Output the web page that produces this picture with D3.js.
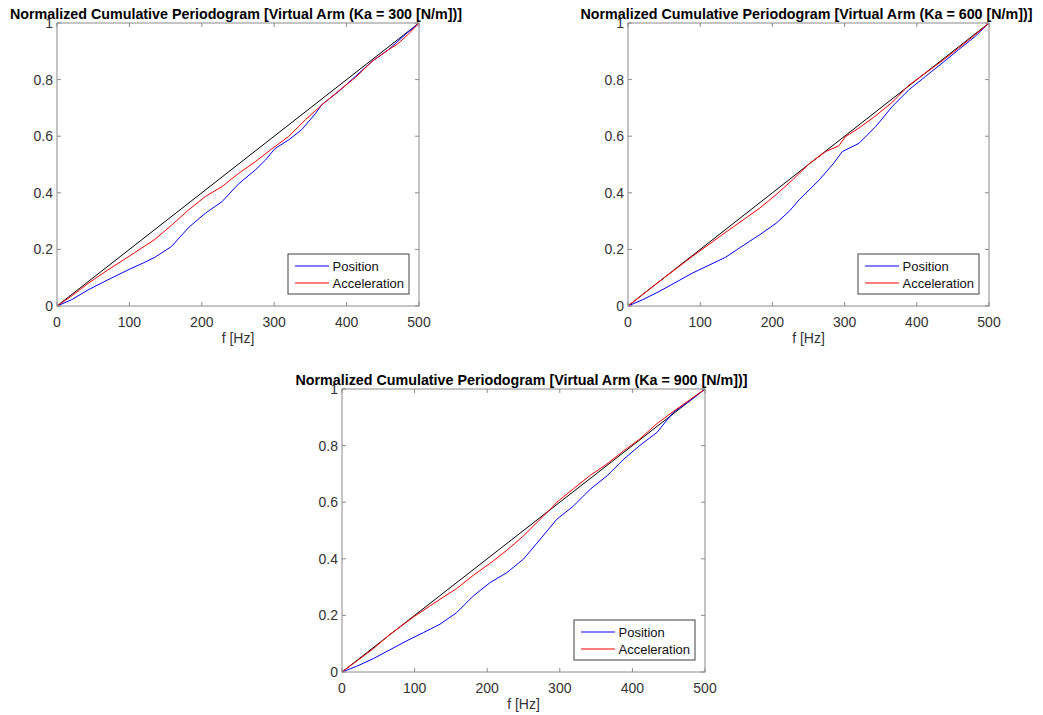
<!DOCTYPE html>
<html>
<head>
<meta charset="utf-8">
<script src="https://cdn.jsdelivr.net/npm/d3@7"></script>
<style>
  body { margin: 0; background: #fff; }
  text { font-family: "Liberation Sans", Arial, sans-serif; }
</style>
</head>
<body>
<div id="fig"></div>
<script>
// traced curves, [f (Hz), normalized cumulative periodogram]
// Ka = 300
var pos300 = [[0,0],[20,0.022],[43,0.057],[70,0.092],[101,0.131],[120,0.153],[135,0.172],[158,0.21],[182,0.278],[205,0.328],[228,0.369],[251,0.432],[274,0.481],[288,0.516],[301,0.556],[320,0.587],[338,0.623],[357,0.68],[366,0.712],[389,0.758],[412,0.811],[435,0.864],[458,0.906],[481,0.959],[500,1]];
var acc300 = [[0,0],[20,0.035],[43,0.08],[70,0.127],[101,0.178],[120,0.21],[135,0.235],[158,0.285],[182,0.34],[205,0.387],[228,0.422],[251,0.469],[274,0.51],[297,0.556],[320,0.599],[343,0.658],[366,0.711],[389,0.76],[412,0.807],[435,0.864],[458,0.906],[470,0.925],[486,0.962],[500,1]];
// Ka = 600
var pos600 = [[0,0],[20,0.022],[43,0.051],[89,0.116],[135,0.172],[168,0.228],[182,0.251],[205,0.292],[223,0.334],[237,0.375],[265,0.446],[285,0.505],[297,0.546],[320,0.575],[343,0.634],[366,0.705],[389,0.764],[412,0.811],[435,0.858],[458,0.906],[481,0.953],[500,1]];
var acc600 = [[0,0],[43,0.086],[89,0.175],[135,0.26],[182,0.345],[205,0.393],[228,0.446],[251,0.503],[274,0.546],[292,0.566],[301,0.598],[320,0.629],[343,0.672],[366,0.72],[389,0.78],[412,0.823],[435,0.866],[458,0.912],[481,0.959],[500,1]];
// Ka = 900
var pos900 = [[0,0],[20,0.02],[43,0.047],[89,0.11],[112,0.139],[135,0.169],[158,0.21],[181,0.269],[204,0.316],[227,0.351],[250,0.399],[273,0.469],[296,0.54],[319,0.587],[342,0.646],[365,0.693],[388,0.752],[410,0.8],[434,0.847],[456,0.917],[479,0.958],[500,1]];
var acc900 = [[0,0],[43,0.082],[66,0.133],[100,0.197],[135,0.257],[158,0.295],[181,0.342],[204,0.384],[227,0.43],[250,0.481],[273,0.54],[287,0.575],[296,0.6],[319,0.648],[342,0.695],[365,0.735],[388,0.782],[410,0.823],[434,0.878],[456,0.92],[479,0.962],[500,1]];

var xTicks = [0, 100, 200, 300, 400, 500];
var yTicks = [0, 0.2, 0.4, 0.6, 0.8, 1];
var legendNames = ["Position", "Acceleration"];
var titles = [
  "Normalized Cumulative Periodogram [Virtual Arm (Ka = 300 [N/m])]",
  "Normalized Cumulative Periodogram [Virtual Arm (Ka = 600 [N/m])]",
  "Normalized Cumulative Periodogram [Virtual Arm (Ka = 900 [N/m])]"
];

var width = 1043, height = 715;
var axisColor = "#8a8a8a", textColor = "#333";
var seriesColors = ["#0000ff", "#ff0000"];

var svg = d3.select("#fig").append("svg")
  .attr("width", width)
  .attr("height", height);

// one subplot
function drawPanel(left, top, w, h, title, pos, acc) {
  var g = svg.append("g").attr("transform", "translate(" + left + "," + top + ")");

  var x = d3.scaleLinear().domain([0, 500]).range([0, w]);
  var y = d3.scaleLinear().domain([0, 1]).range([h, 0]);

  var line = d3.line()
    .x(function(d) { return x(d[0]); })
    .y(function(d) { return y(d[1]); });

  // reference diagonal
  g.append("path")
    .attr("d", line([[0, 0], [500, 1]]))
    .attr("fill", "none").attr("stroke", "#000").attr("stroke-width", 1);

  [pos, acc].forEach(function(s, i) {
    g.append("path")
      .attr("d", line(s))
      .attr("fill", "none").attr("stroke", seriesColors[i]).attr("stroke-width", 1);
  });

  // box
  g.append("rect")
    .attr("x", 0).attr("y", 0).attr("width", w).attr("height", h)
    .attr("fill", "none").attr("stroke", axisColor).attr("stroke-width", 1);

  // ticks inside the box on all four sides
  var tl = 4;
  xTicks.forEach(function(t) {
    g.append("line").attr("x1", x(t)).attr("x2", x(t)).attr("y1", h).attr("y2", h - tl).attr("stroke", axisColor);
    g.append("line").attr("x1", x(t)).attr("x2", x(t)).attr("y1", 0).attr("y2", tl).attr("stroke", axisColor);
    g.append("text")
      .attr("x", x(t)).attr("y", h + 21)
      .attr("text-anchor", "middle")
      .attr("font-size", 14).attr("fill", textColor)
      .text(t);
  });
  yTicks.forEach(function(t) {
    g.append("line").attr("x1", 0).attr("x2", tl).attr("y1", y(t)).attr("y2", y(t)).attr("stroke", axisColor);
    g.append("line").attr("x1", w).attr("x2", w - tl).attr("y1", y(t)).attr("y2", y(t)).attr("stroke", axisColor);
    g.append("text")
      .attr("x", -4).attr("y", y(t) + 5)
      .attr("text-anchor", "end")
      .attr("font-size", 14).attr("fill", textColor)
      .text(t);
  });

  g.append("text")
    .attr("x", w / 2).attr("y", h + 37)
    .attr("text-anchor", "middle")
    .attr("font-size", 14).attr("fill", textColor)
    .text("f [Hz]");

  // title sits right on the top edge
  g.append("text")
    .attr("x", w / 2 - 2).attr("y", -4.5)
    .attr("text-anchor", "middle")
    .attr("font-size", 14).attr("font-weight", "bold").attr("fill", "#000")
    .attr("textLength", 452).attr("lengthAdjust", "spacingAndGlyphs")
    .text(title);

  // legend, bottom right
  var lw = 121, lh = 40;
  var lg = g.append("g").attr("transform", "translate(" + (w - 10 - lw) + "," + (h - 12 - lh) + ")");
  lg.append("rect")
    .attr("width", lw).attr("height", lh)
    .attr("fill", "#fff").attr("stroke", "#404040").attr("stroke-width", 1);
  legendNames.forEach(function(n, i) {
    var ly = 12 + i * 17;
    lg.append("path")
      .attr("d", "M7," + ly + "H41")
      .attr("fill", "none")
      .attr("stroke", seriesColors[i]).attr("stroke-width", 1.2);
    lg.append("text").attr("x", 44.5).attr("y", ly + 4.5)
      .attr("font-size", 13).attr("fill", "#111").text(n);
  });
}

drawPanel(57, 23, 362, 283, titles[0], pos300, acc300);
drawPanel(628, 23, 361, 283, titles[1], pos600, acc600);
drawPanel(342, 389, 363, 283, titles[2], pos900, acc900);
</script>
</body>
</html>
